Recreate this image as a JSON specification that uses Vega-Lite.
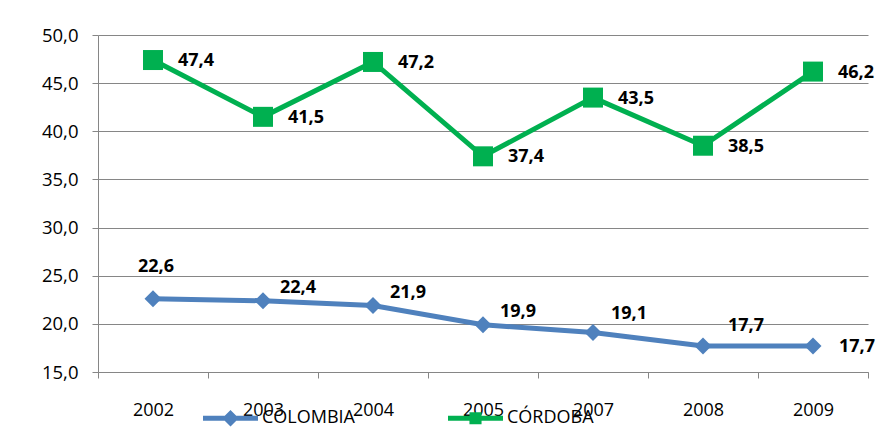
{
  "$schema": "https://vega.github.io/schema/vega-lite/v6.json",
  "autosize": "none",
  "width": 770,
  "height": 337,
  "padding": {"left": 98, "top": 35, "right": 11, "bottom": 59},
  "background": "white",
  "config": {
    "locale": {"number": {"decimal": ",", "thousands": ".", "grouping": [3], "currency": ["", ""]}},
    "view": {"stroke": null},
    "font": "Open Sans"
  },
  "data": {
    "values": [
      {"year": "2002", "series": "COLOMBIA", "value": 22.6},
      {"year": "2003", "series": "COLOMBIA", "value": 22.4},
      {"year": "2004", "series": "COLOMBIA", "value": 21.9},
      {"year": "2005", "series": "COLOMBIA", "value": 19.9},
      {"year": "2007", "series": "COLOMBIA", "value": 19.1},
      {"year": "2008", "series": "COLOMBIA", "value": 17.7},
      {"year": "2009", "series": "COLOMBIA", "value": 17.7},
      {"year": "2002", "series": "CÓRDOBA", "value": 47.4},
      {"year": "2003", "series": "CÓRDOBA", "value": 41.5},
      {"year": "2004", "series": "CÓRDOBA", "value": 47.2},
      {"year": "2005", "series": "CÓRDOBA", "value": 37.4},
      {"year": "2007", "series": "CÓRDOBA", "value": 43.5},
      {"year": "2008", "series": "CÓRDOBA", "value": 38.5},
      {"year": "2009", "series": "CÓRDOBA", "value": 46.2}
    ]
  },
  "encoding": {
    "x": {
      "field": "year", "type": "ordinal",
      "scale": {"paddingInner": 0, "paddingOuter": 0},
      "axis": {
        "title": null, "labelAngle": 0, "tickBand": "extent",
        "domainColor": "#868686", "tickColor": "#868686", "tickSize": 6,
        "labelFont": "Open Sans", "labelFontSize": 18, "labelColor": "#000000",
        "labelPadding": 23
      }
    },
    "y": {
      "field": "value", "type": "quantitative",
      "scale": {"domain": [15, 50], "nice": false, "zero": false},
      "axis": {
        "title": null, "values": [15, 20, 25, 30, 35, 40, 45, 50], "format": ".1f",
        "grid": true, "gridColor": "#868686", "gridWidth": 1,
        "domainColor": "#868686", "tickColor": "#868686", "tickSize": 6,
        "labelFont": "Open Sans", "labelFontSize": 18.5, "labelColor": "#000000",
        "labelPadding": 14
      }
    },
    "color": {
      "field": "series", "type": "nominal",
      "scale": {"domain": ["COLOMBIA", "CÓRDOBA"], "range": ["#4F81BD", "#00B050"]},
      "legend": {
        "orient": "none", "legendX": 105, "legendY": 355.5, "direction": "horizontal",
        "title": null, "symbolSize": 3025, "columnPadding": 93, "labelOffset": 4,
        "labelFont": "Open Sans", "labelFontSize": 18, "labelColor": "#000000",
        "encode": {
          "symbols": {
            "update": {
              "shape": [
                {"test": "datum.value === 'COLOMBIA'", "value": "M-1,-0.09H1V0.09H-1Z M-0.3,0L0,-0.3L0.3,0L0,0.3Z"},
                {"value": "M-1,-0.09H1V0.09H-1Z M-0.22,-0.22H0.22V0.22H-0.22Z"}
              ],
              "fill": {"scale": "color", "field": "value"},
              "strokeWidth": {"value": 0},
              "opacity": {"value": 1}
            }
          }
        }
      }
    }
  },
  "layer": [
    {"mark": {"type": "line", "strokeWidth": 5}},
    {
      "transform": [{"filter": "datum.series === 'COLOMBIA'"}],
      "mark": {"type": "point", "shape": "diamond", "size": 290, "filled": true, "opacity": 1}
    },
    {
      "transform": [{"filter": "datum.series === 'CÓRDOBA'"}],
      "mark": {"type": "point", "shape": "square", "size": 400, "filled": true, "opacity": 1}
    },
    {
      "transform": [{"filter": "datum.series === 'CÓRDOBA'"}],
      "mark": {"type": "text", "align": "left", "baseline": "middle", "dx": 25, "dy": 1, "fontSize": 18, "fontWeight": "bold", "font": "Open Sans", "color": "#000000"},
      "encoding": {"text": {"field": "value", "type": "quantitative", "format": ".1f"}, "color": {"value": "#000000"}}
    },
    {
      "transform": [{"filter": "datum.series === 'COLOMBIA' && datum.year === '2002'"}],
      "mark": {"type": "text", "align": "left", "baseline": "middle", "dx": -15, "dy": -32, "fontSize": 18, "fontWeight": "bold", "font": "Open Sans"},
      "encoding": {"text": {"field": "value", "type": "quantitative", "format": ".1f"}, "color": {"value": "#000000"}}
    },
    {
      "transform": [{"filter": "datum.series === 'COLOMBIA' && indexof(['2003','2004','2005'], datum.year) >= 0"}],
      "mark": {"type": "text", "align": "left", "baseline": "middle", "dx": 17, "dy": -13, "fontSize": 18, "fontWeight": "bold", "font": "Open Sans"},
      "encoding": {"text": {"field": "value", "type": "quantitative", "format": ".1f"}, "color": {"value": "#000000"}}
    },
    {
      "transform": [{"filter": "datum.series === 'COLOMBIA' && datum.year === '2007'"}],
      "mark": {"type": "text", "align": "left", "baseline": "middle", "dx": 18, "dy": -19, "fontSize": 18, "fontWeight": "bold", "font": "Open Sans"},
      "encoding": {"text": {"field": "value", "type": "quantitative", "format": ".1f"}, "color": {"value": "#000000"}}
    },
    {
      "transform": [{"filter": "datum.series === 'COLOMBIA' && datum.year === '2008'"}],
      "mark": {"type": "text", "align": "left", "baseline": "middle", "dx": 25, "dy": -20, "fontSize": 18, "fontWeight": "bold", "font": "Open Sans"},
      "encoding": {"text": {"field": "value", "type": "quantitative", "format": ".1f"}, "color": {"value": "#000000"}}
    },
    {
      "transform": [{"filter": "datum.series === 'COLOMBIA' && datum.year === '2009'"}],
      "mark": {"type": "text", "align": "left", "baseline": "middle", "dx": 26, "dy": 1, "fontSize": 18, "fontWeight": "bold", "font": "Open Sans"},
      "encoding": {"text": {"field": "value", "type": "quantitative", "format": ".1f"}, "color": {"value": "#000000"}}
    }
  ]
}
